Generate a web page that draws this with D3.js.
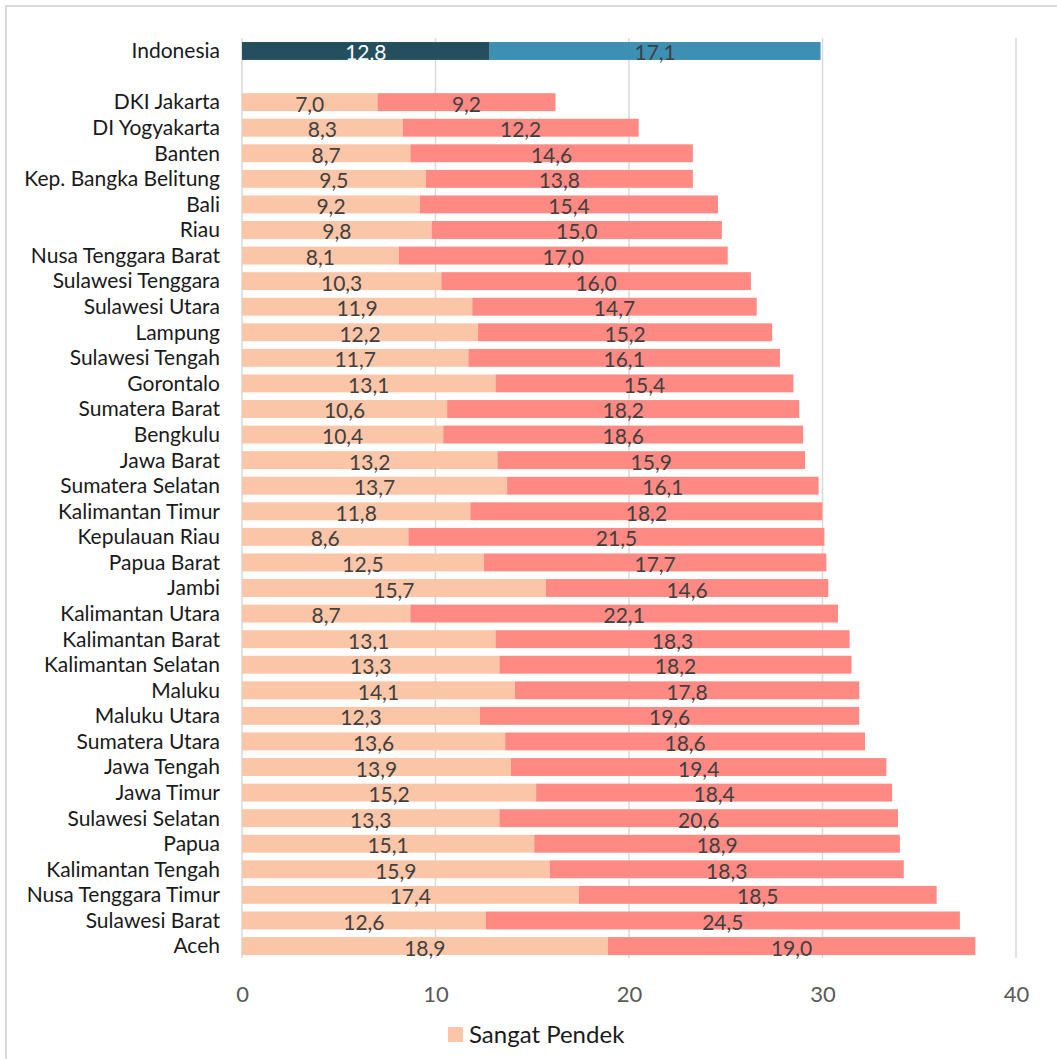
<!DOCTYPE html>
<html><head><meta charset="utf-8">
<script src="https://cdn.jsdelivr.net/npm/d3@7"></script>
<style>html,body{margin:0;padding:0;background:#fff;overflow:hidden}</style>
</head><body>
<svg id="chart" width="1057" height="1059"></svg>
<script>
const nationalLabel = "Indonesia";
const nationalSangatPendek = 12.8;
const nationalPendek = 17.1;
const provinces = ["DKI Jakarta","DI Yogyakarta","Banten","Kep. Bangka Belitung","Bali","Riau","Nusa Tenggara Barat","Sulawesi Tenggara","Sulawesi Utara","Lampung","Sulawesi Tengah","Gorontalo","Sumatera Barat","Bengkulu","Jawa Barat","Sumatera Selatan","Kalimantan Timur","Kepulauan Riau","Papua Barat","Jambi","Kalimantan Utara","Kalimantan Barat","Kalimantan Selatan","Maluku","Maluku Utara","Sumatera Utara","Jawa Tengah","Jawa Timur","Sulawesi Selatan","Papua","Kalimantan Tengah","Nusa Tenggara Timur","Sulawesi Barat","Aceh"];
const sangatPendek = [7.0,8.3,8.7,9.5,9.2,9.8,8.1,10.3,11.9,12.2,11.7,13.1,10.6,10.4,13.2,13.7,11.8,8.6,12.5,15.7,8.7,13.1,13.3,14.1,12.3,13.6,13.9,15.2,13.3,15.1,15.9,17.4,12.6,18.9];
const pendek = [9.2,12.2,14.6,13.8,15.4,15.0,17.0,16.0,14.7,15.2,16.1,15.4,18.2,18.6,15.9,16.1,18.2,21.5,17.7,14.6,22.1,18.3,18.2,17.8,19.6,18.6,19.4,18.4,20.6,18.9,18.3,18.5,24.5,19.0];
const xTicks = [0,10,20,30,40];
const legendLabels = ["Sangat Pendek"];

const svg = d3.select("#chart");
const fmt = v => v.toFixed(1).replace(".", ",");
const FONT = "Lato";

// border
svg.append("rect").attr("x",6).attr("y",6).attr("width",1100).attr("height",1100)
  .attr("fill","none").attr("stroke","#d9d9d9").attr("stroke-width",2);

const spacer = "\u00a0";
const domain = [nationalLabel, spacer].concat(provinces);
const y = d3.scaleBand().domain(domain).range([38.2, 958.8]).paddingInner(0.3).paddingOuter(0.15);
const x = d3.scaleLinear().domain([0,40]).range([242, 1016]);

// gridlines
svg.append("g").selectAll("line").data(xTicks).join("line")
  .attr("x1", d=>x(d)).attr("x2", d=>x(d)).attr("y1", 38).attr("y2", 958)
  .attr("stroke","#d9d9d9").attr("stroke-width",1.5);

const rows = [{name: nationalLabel, a: nationalSangatPendek, b: nationalPendek, nat: true}]
  .concat(provinces.map((p,i)=>({name:p, a:sangatPendek[i], b:pendek[i], nat:false})));

const colA = d => d.nat ? "#234f5e" : "#fbc6a7";
const colB = d => d.nat ? "#3d8fb4" : "#ff8a84";

const g = svg.append("g");
const rg = g.selectAll("g").data(rows).join("g");
rg.append("rect").attr("x", x(0)).attr("y", d=>y(d.name)).attr("height", y.bandwidth())
  .attr("width", d=>x(d.a)-x(0)).attr("fill", colA);
rg.append("rect").attr("x", d=>x(d.a)).attr("y", d=>y(d.name)).attr("height", y.bandwidth())
  .attr("width", d=>x(d.a+d.b)-x(d.a)).attr("fill", colB);
rg.append("text").attr("x", d=>(x(0)+x(d.a))/2).attr("y", d=>y(d.name)+y.bandwidth()/2+9.5)
  .attr("text-anchor","middle").attr("font-family",FONT).attr("font-size",21)
  .attr("fill", d=>d.nat?"#ffffff":"#404040").text(d=>fmt(d.a));
rg.append("text").attr("x", d=>(x(d.a)+x(d.a+d.b))/2).attr("y", d=>y(d.name)+y.bandwidth()/2+9.5)
  .attr("text-anchor","middle").attr("font-family",FONT).attr("font-size",21)
  .attr("fill","#404040").text(d=>fmt(d.b));

// category labels
const yAxis = d3.axisLeft(y).tickSize(0).tickPadding(0);
const ya = svg.append("g").attr("transform","translate(220,0)").call(yAxis);
ya.select(".domain").remove();
ya.selectAll("text").attr("font-family",FONT).attr("font-size",21).attr("fill","#1a1a1a").attr("dy","0.35em");

// x axis
const xAxis = d3.axisBottom(x).tickValues(xTicks).tickSize(0).tickPadding(0);
const xa = svg.append("g").attr("transform","translate(0,994.5)").call(xAxis);
xa.select(".domain").remove();
xa.selectAll("text").attr("font-family",FONT).attr("font-size",22).attr("fill","#595959").attr("dy","0.35em");

// legend
const lg = svg.append("g");
lg.append("rect").attr("x",448).attr("y",1027).attr("width",15).attr("height",15).attr("fill","#fbc6a7");
lg.append("text").attr("x",469).attr("y",1043).attr("font-family",FONT).attr("font-size",24)
  .attr("fill","#1a1a1a").text(legendLabels[0]);
</script>
</body></html>
